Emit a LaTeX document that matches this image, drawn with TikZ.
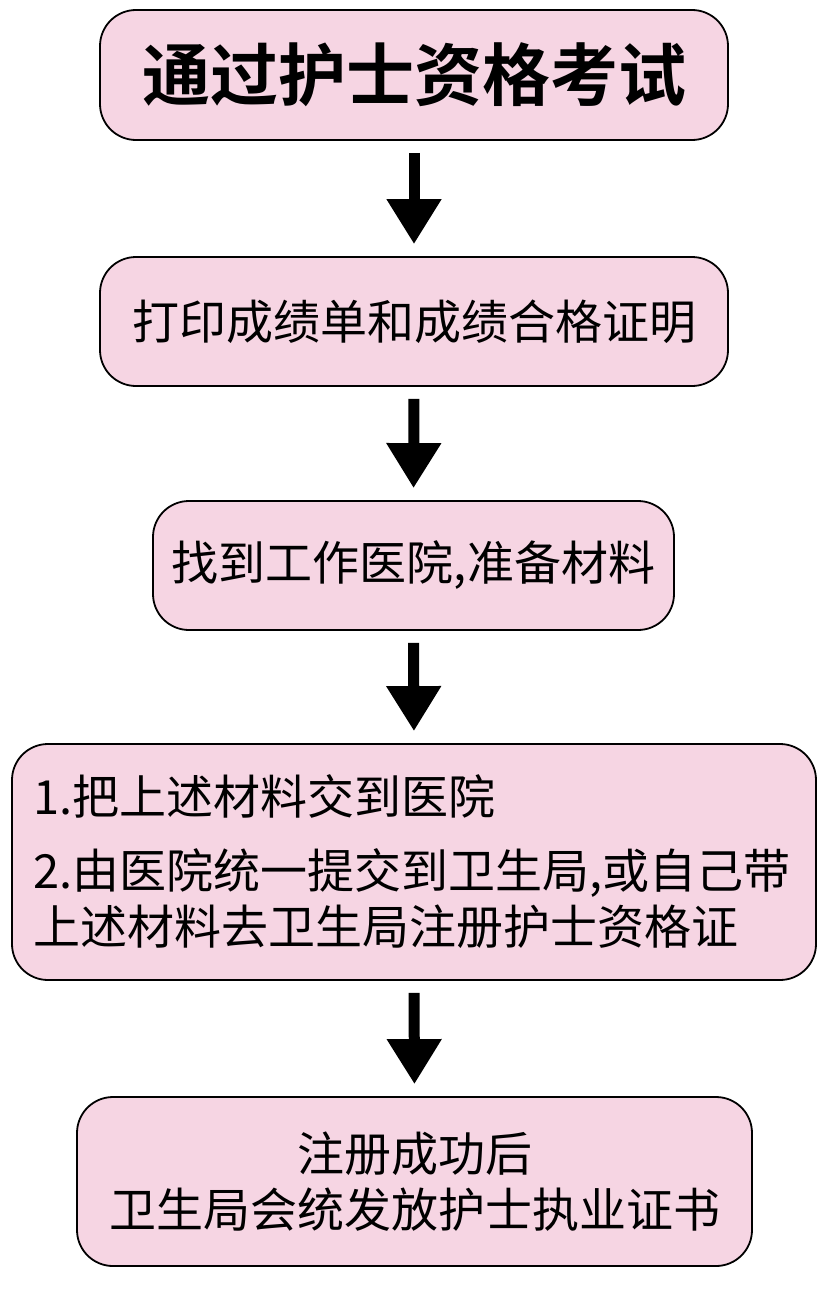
\documentclass[tikz,border=0pt]{standalone}
\usepackage{fontspec}
\setmainfont{Noto Sans CJK SC}
\newfontfamily\cjkbold{Noto Sans CJK SC Bold}
\usetikzlibrary{arrows.meta}
\definecolor{boxpink}{RGB}{246,213,227}
\tikzset{
  flowbox/.style={draw=black, line width=1.8pt, fill=boxpink, rounded corners=36pt, inner sep=0pt},
  bodytext/.style={font=\fontsize{47}{56}\selectfont},
  bigarrow/.style={line width=11pt, -{Triangle[width=52pt,length=45pt]}, shorten <=12pt, shorten >=12pt},
}
\begin{document}
\begin{tikzpicture}[x=1pt,y=-1pt]
\useasboundingbox (0,0) rectangle (830,1298);
\node[flowbox, minimum width=628pt, minimum height=130pt, font=\fontsize{68}{72}\selectfont\cjkbold] (b1) at (414,75)
  {通过护士资格考试};
\node[flowbox, bodytext, minimum width=628pt, minimum height=129pt] (b2) at (414,321.5)
  {打印成绩单和成绩合格证明};
\node[flowbox, bodytext, minimum width=521pt, minimum height=129pt] (b3) at (413.5,565.5)
  {找到工作医院,准备材料};
\node[flowbox, bodytext, minimum width=804pt, minimum height=236pt, text width=762pt, align=left, inner xsep=21pt] (b4) at (414,862)
  {1.把上述材料交到医院\\[18pt]2.由医院统一提交到卫生局,或自己带\\上述材料去卫生局注册护士资格证};
\node[flowbox, bodytext, minimum width=675pt, minimum height=169pt, align=center] (b5) at (414.5,1181.5)
  {注册成功后\\卫生局会统发放护士执业证书};
\draw[bigarrow] (b1.south) -- (b2.north);
\draw[bigarrow] (b2.south) -- (b3.north);
\draw[bigarrow] (b3.south) -- (b4.north);
\draw[bigarrow] (b4.south) -- (b5.north);
\end{tikzpicture}
\end{document}
